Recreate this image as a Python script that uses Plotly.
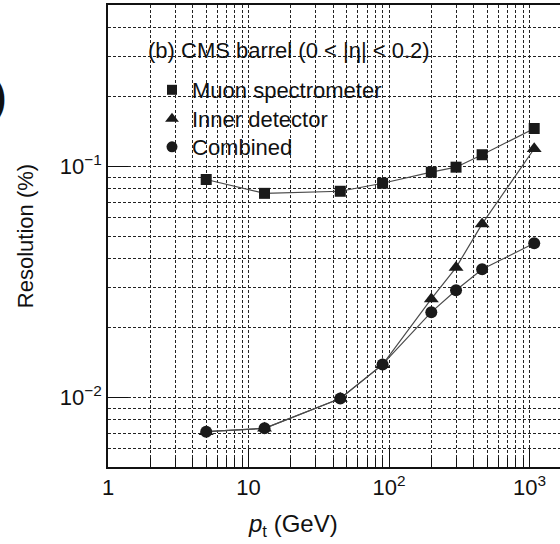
import plotly.graph_objects as go

# ---- data ----
pt = [5, 13, 45, 90, 200, 300, 460, 1080]
muon = [0.0878, 0.0765, 0.0781, 0.0846, 0.0945, 0.0993, 0.1124, 0.146]
inner = [0.00711, 0.00735, 0.0099, 0.01387, 0.0267, 0.0365, 0.0564, 0.1193]
combined = [0.00711, 0.00735, 0.0099, 0.0139, 0.0234, 0.0291, 0.0359, 0.0465]

series_names = ["Muon spectrometer", "Inner detector", "Combined"]
series_symbols = ["square", "triangle-up", "circle"]

x_tickvals = [1, 10, 100, 1000]
x_ticktext = ["1", "10", "10<sup>2</sup>", "10<sup>3</sup>"]
y_tickvals = [0.01, 0.1]
y_ticktext = ["10<sup>\u22122</sup>", "10<sup>\u22121</sup>"]
decades_x = [1, 10, 100, 1000, 10000]
decades_y = [0.001, 0.01, 0.1, 1]
minor_x = [d * k for d in decades_x for k in range(2, 10)]
minor_y = [d * k for d in decades_y for k in range(2, 10)]

title_text = "(b) CMS barrel (0 < |\u03b7| < 0.2)"

FONT = "Liberation Sans, Arial, Helvetica, sans-serif"
FS = 22
W, H = 560, 544
ML, MR, MT, MB = 108, 0, 5, 77
PW, PH = W - ML - MR, H - MT - MB
LINE_C = "#4a4a4a"
MARK_C = "#1a1a1a"

fig = go.Figure()
for name, ys, sym, sz in zip(series_names, [muon, inner, combined], series_symbols, [11, 13, 12]):
    fig.add_trace(go.Scatter(
        x=pt, y=ys, mode="lines+markers", name=name, showlegend=False,
        line=dict(color=LINE_C, width=1.2),
        marker=dict(symbol=sym, size=sz, color=MARK_C),
    ))

# legend entries (marker only), one legend box per row for exact spacing
legend_ids = ["legend", "legend2", "legend3"]
legend_rows_px = [90, 119, 147]
for name, sym, sz, lid in zip(series_names, series_symbols, [10, 12, 11], legend_ids):
    fig.add_trace(go.Scatter(
        x=[None], y=[None], mode="markers", name=name, legend=lid,
        marker=dict(symbol=sym, size=sz, color=MARK_C),
    ))

grid = dict(color="#222222", width=1, dash="3px,2px")

fig.update_xaxes(
    type="log", range=[0, 3.217],
    tickvals=x_tickvals, ticktext=x_ticktext,
    ticks="inside", ticklen=18, tickwidth=1.2, tickcolor="#111",
    showline=True, linecolor="#111", linewidth=1.6, mirror=True,
    showgrid=True, gridcolor=grid["color"], gridwidth=grid["width"], griddash=grid["dash"],
    minor=dict(tickvals=minor_x, ticks="inside", ticklen=9, tickwidth=1, tickcolor="#111",
               showgrid=True, gridcolor=grid["color"], gridwidth=grid["width"], griddash=grid["dash"]),
    tickfont=dict(family=FONT, size=FS, color="#111"),
    zeroline=False,
)
fig.update_yaxes(
    type="log", range=[-2.30103, -0.30103],
    tickvals=y_tickvals, ticktext=y_ticktext,
    ticks="inside", ticklen=20, tickwidth=1.2, tickcolor="#111",
    showline=True, linecolor="#111", linewidth=1.6, mirror=False,
    showgrid=True, gridcolor=grid["color"], gridwidth=grid["width"], griddash=grid["dash"],
    minor=dict(tickvals=minor_y, ticks="", showgrid=True,
               gridcolor=grid["color"], gridwidth=grid["width"], griddash=grid["dash"]),
    tickfont=dict(family=FONT, size=FS, color="#111"),
    title=dict(text="Resolution (%)", font=dict(family=FONT, size=FS, color="#111"), standoff=20),
    zeroline=False,
)

fig.add_annotation(
    text=title_text, xref="paper", yref="paper",
    x=(146 - ML) / PW, y=1 - (51 - MT) / PH,
    xanchor="left", yanchor="middle", showarrow=False,
    font=dict(family=FONT, size=FS, color="#111"),
)
fig.add_annotation(
    text="<i>p</i><sub>t</sub> (GeV)", xref="paper", yref="paper",
    x=(293 - ML) / PW, y=-(525 - (H - MB)) / PH,
    xanchor="center", yanchor="middle", showarrow=False,
    font=dict(family=FONT, size=24, color="#111"),
)
# fragment of a neighbouring panel visible at the left edge
fig.add_annotation(
    text="<b>)</b>", xref="paper", yref="paper",
    x=-(ML - 8) / PW, y=1 - (97 - MT) / PH,
    xanchor="right", yanchor="middle", showarrow=False,
    font=dict(family=FONT, size=40, color="#111"),
)

legend_common = dict(
    xanchor="left", yanchor="middle",
    bgcolor="rgba(0,0,0,0)", borderwidth=0,
    font=dict(family=FONT, size=FS, color="#111"),
    tracegroupgap=0, itemwidth=30,
)
legends = {}
for lid, ypx in zip(legend_ids, legend_rows_px):
    legends[lid] = dict(legend_common, x=(152 - ML) / PW, y=1 - (ypx - MT) / PH)

fig.update_layout(
    width=W, height=H,
    margin=dict(l=ML, r=MR, t=MT, b=MB, pad=0),
    paper_bgcolor="white", plot_bgcolor="white",
    font=dict(family=FONT, size=FS, color="#111"),
    **legends,
)

fig.write_html("out.html")
